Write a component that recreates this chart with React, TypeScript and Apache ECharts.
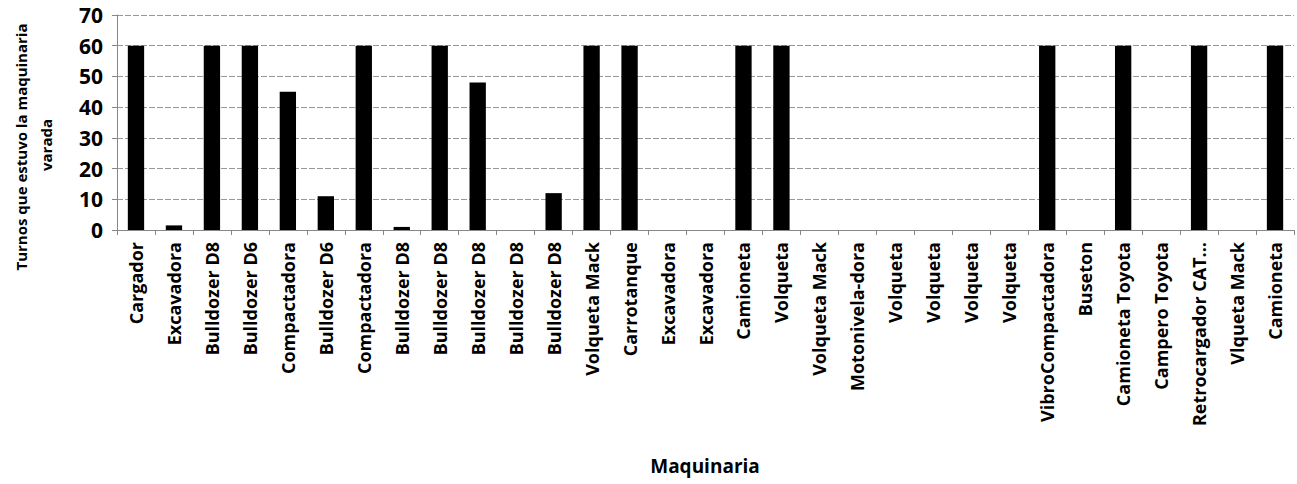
import React, { useEffect, useRef } from "react";
import * as echarts from "echarts";

const categories = [
  "Cargador", "Excavadora", "Bulldozer D8", "Bulldozer D6", "Compactadora",
  "Bulldozer D6", "Compactadora", "Bulldozer D8", "Bulldozer D8", "Bulldozer D8",
  "Bulldozer D8", "Bulldozer D8", "Volqueta Mack", "Carrotanque", "Excavadora",
  "Excavadora", "Camioneta", "Volqueta", "Volqueta Mack", "Motonivela-dora",
  "Volqueta", "Volqueta", "Volqueta", "Volqueta", "VibroCompactadora",
  "Buseton", "Camioneta Toyota", "Campero Toyota", "Retrocargador CAT...", "Vlqueta Mack",
  "Camioneta",
];

const turnos = [
  60, 1.5, 60, 60, 45,
  11, 60, 1, 60, 48,
  0, 12, 60, 60, 0,
  0, 60, 60, 0, 0,
  0, 0, 0, 0, 60,
  0, 60, 0, 60, 0,
  60,
];

const yTicks = { min: 0, max: 70, interval: 10 };
const yTitleLines = ["Turnos que estuvo la maquinaria", "varada"];
const xTitle = "Maquinaria";

const FONT = "'Open Sans', 'DejaVu Sans', sans-serif";

export default function App() {
  const ref = useRef<HTMLDivElement>(null);
  useEffect(() => {
    document.body.style.margin = "0";
    const chart = echarts.init(ref.current!, null, { renderer: "svg" });
    chart.setOption({
      animation: false,
      backgroundColor: "#ffffff",
      grid: { left: 117, right: 3, top: 15, bottom: 254, containLabel: false },
      xAxis: {
        type: "category",
        data: categories,
        axisLine: { show: true, lineStyle: { color: "#888", width: 1 } },
        axisTick: { show: true, alignWithLabel: false, length: 5, lineStyle: { color: "#888" } },
        axisLabel: {
          interval: 0,
          rotate: 90,
          margin: 12,
          color: "#000",
          fontWeight: "bold",
          fontSize: 18,
          fontFamily: FONT,
        },
      },
      yAxis: {
        type: "value",
        min: yTicks.min,
        max: yTicks.max,
        interval: yTicks.interval,
        axisLine: { show: true, lineStyle: { color: "#888", width: 1 } },
        axisTick: { show: true, length: 5, lineStyle: { color: "#888" } },
        splitLine: { show: true, lineStyle: { color: "#999", width: 1, type: [6, 2] } },
        axisLabel: {
          margin: 14,
          color: "#000",
          fontWeight: "bold",
          fontSize: 21,
          fontFamily: FONT,
        },
      },
      graphic: [
        {
          type: "text",
          x: 21,
          y: 147,
          rotation: Math.PI / 2,
          style: {
            text: yTitleLines[0],
            fill: "#000",
            font: `bold 15px ${FONT}`,
            align: "center",
            verticalAlign: "middle",
          },
        },
        {
          type: "text",
          x: 46,
          y: 145,
          rotation: Math.PI / 2,
          style: {
            text: yTitleLines[1],
            fill: "#000",
            font: `bold 15px ${FONT}`,
            align: "center",
            verticalAlign: "middle",
          },
        },
        {
          type: "text",
          x: 705,
          y: 466,
          style: {
            text: xTitle,
            fill: "#000",
            font: `bold 19px ${FONT}`,
            align: "center",
            verticalAlign: "middle",
          },
        },
      ],
      series: [
        {
          type: "bar",
          data: turnos,
          barWidth: "43%",
          itemStyle: { color: "#000" },
        },
      ],
    });
    return () => chart.dispose();
  }, []);
  return <div ref={ref} style={{ width: 1297, height: 484 }} />;
}
